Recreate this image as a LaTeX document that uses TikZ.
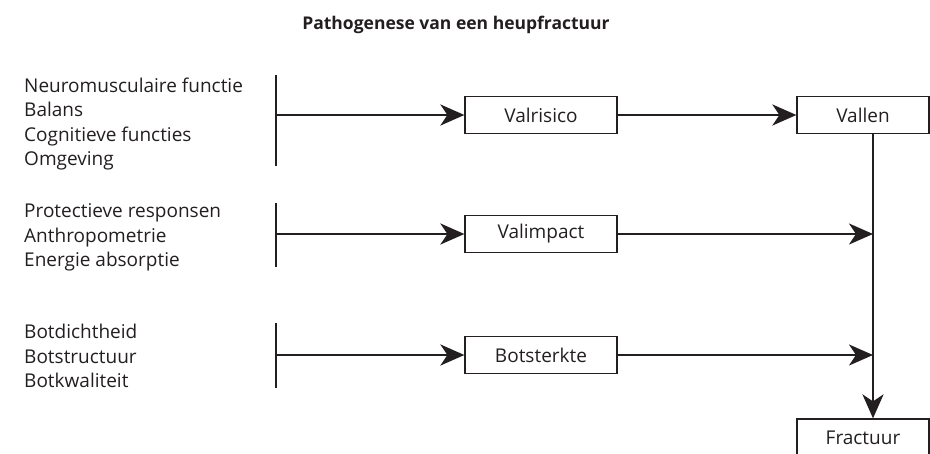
\documentclass[tikz,border=0pt]{standalone}
\usepackage{fontspec}
\setmainfont{Open Sans}
\usetikzlibrary{arrows.meta}
\definecolor{inkt}{HTML}{231F20}
\begin{document}
\begin{tikzpicture}[x=1pt,y=-1pt,inkt,
  blok/.style={draw, line width=1.2pt, minimum width=152pt, minimum height=37pt, inner sep=0pt, font=\fontsize{19}{22}\selectfont},
  lijst/.style={anchor=west, align=left, inner sep=0pt, font=\fontsize{19}{24.5}\selectfont},
  pijl/.style={line width=2.6pt, -{Stealth[length=24pt,width=21pt,inset=7pt]}},
  streep/.style={line width=1.2pt}]
\useasboundingbox (0,0) rectangle (930,453);
\node[font=\bfseries\fontsize{17.5}{20}\selectfont] (titel) at (456,25) {Pathogenese van een heupfractuur};

\node[lijst] (groep1) at (24,124) {Neuromusculaire functie\\Balans\\Cognitieve functies\\Omgeving};
\node[lijst] (groep2) at (24,237.5) {Protectieve responsen\\Anthropometrie\\Energie absorptie};
\node[lijst] (groep3) at (24,356) {Botdichtheid\\Botstructuur\\Botkwaliteit};

\coordinate (b1t) at (276,75);  \coordinate (b1b) at (276,166); \coordinate (b1m) at (276,115);
\coordinate (b2t) at (276,203); \coordinate (b2b) at (276,267); \coordinate (b2m) at (276,234);
\coordinate (b3t) at (276,323); \coordinate (b3b) at (276,388); \coordinate (b3m) at (276,355);
\draw[streep] (b1t) -- (b1b);
\draw[streep] (b2t) -- (b2b);
\draw[streep] (b3t) -- (b3b);

\node[blok] (valrisico) at (541,115) {Valrisico};
\node[blok] (valimpact) at (541,234) {Valimpact};
\node[blok] (botsterkte) at (541,355) {Botsterkte};
\node[blok, minimum width=132pt] (vallen) at (863,115) {Vallen};
\node[blok, minimum width=132pt] (fractuur) at (863,437.5) {Fractuur};

\coordinate (as1) at (873,234);
\coordinate (as2) at (873,355);

\draw[pijl] (b1m) -- (valrisico.west);
\draw[pijl] (b2m) -- (valimpact.west);
\draw[pijl] (b3m) -- (botsterkte.west);
\draw[pijl] (valrisico) -- (vallen);
\draw[pijl] (valimpact) -- (as1);
\draw[pijl] (botsterkte) -- (as2);
\draw[pijl] (vallen.south -| as1) -- (fractuur.north -| as1);
\end{tikzpicture}
\end{document}
